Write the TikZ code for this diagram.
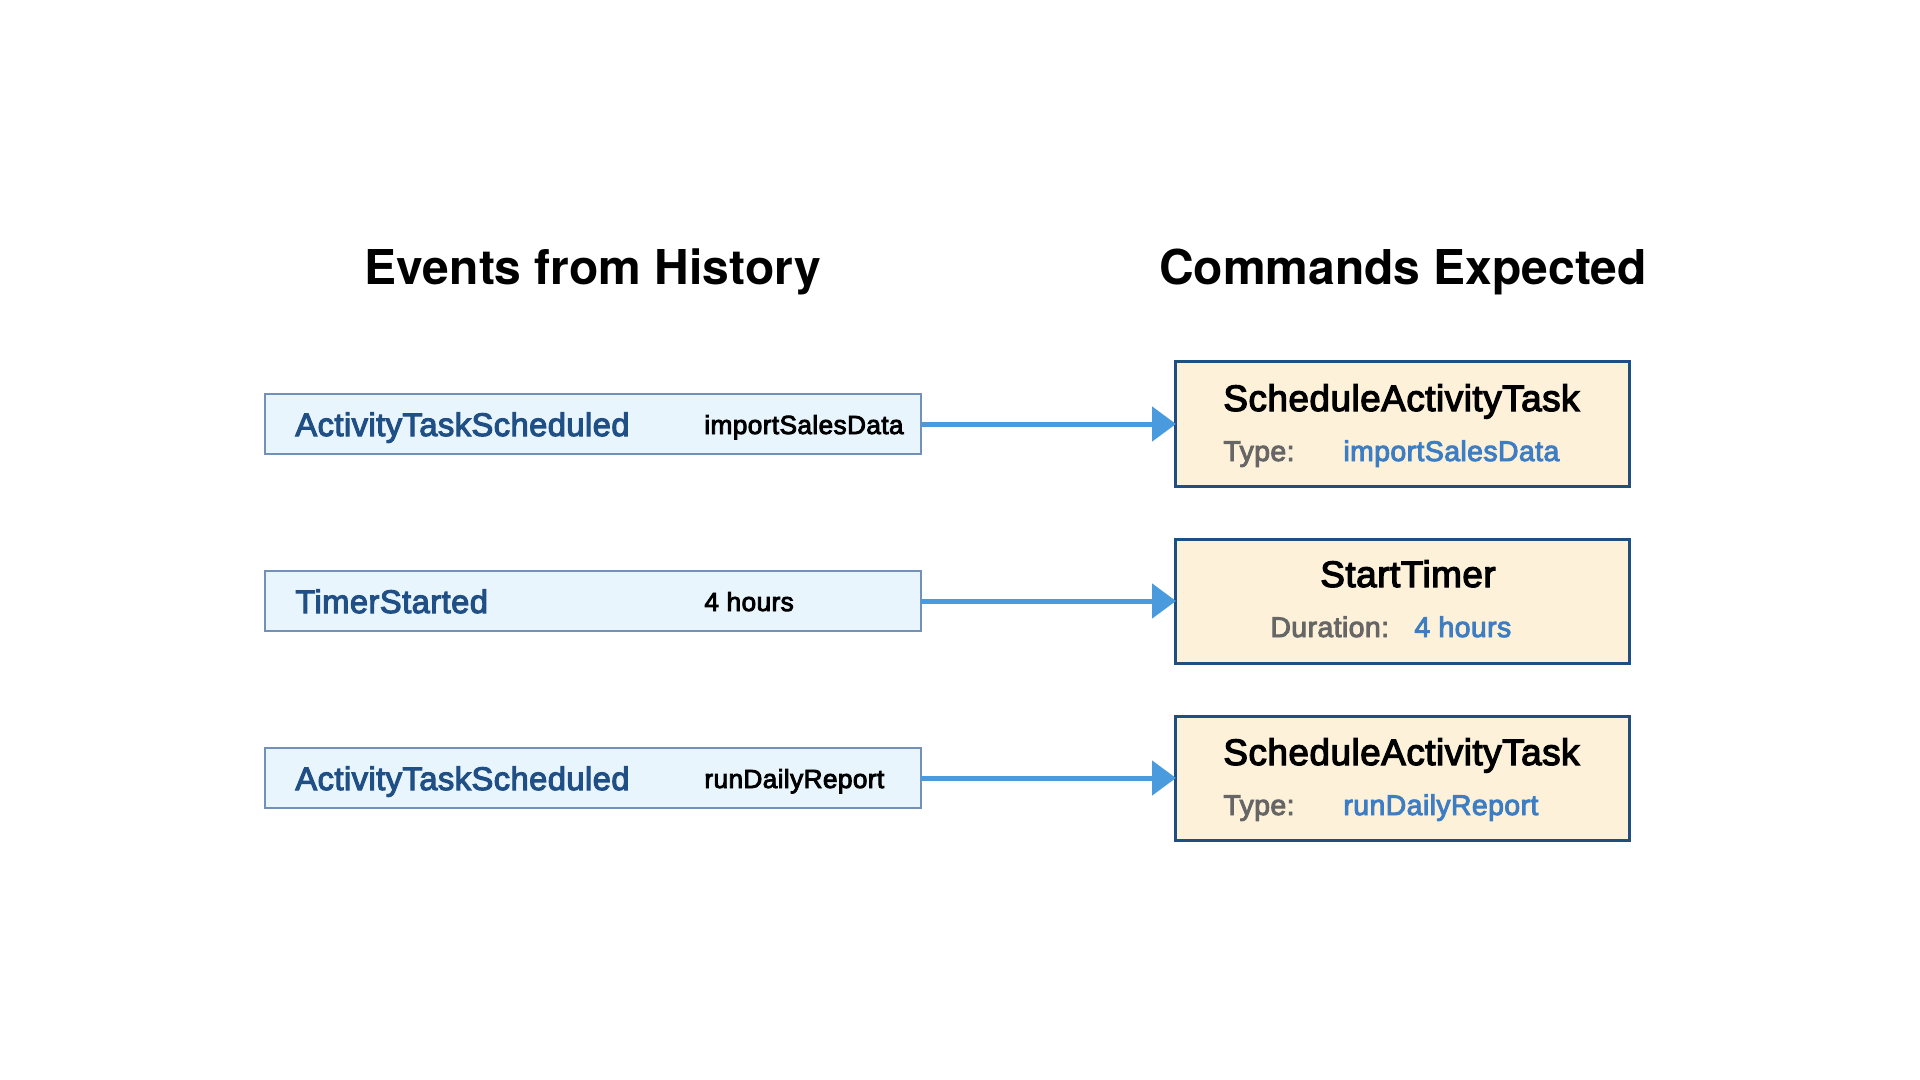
\documentclass[tikz,border=0pt]{standalone}
\usepackage{fontspec}
\setmainfont{TeX Gyre Heros}
\newfontfamily\medfont[FakeBold=3.4,LetterSpace=1.5]{Liberation Sans}
\usetikzlibrary{arrows.meta}
\definecolor{evfill}{HTML}{E8F5FD}
\definecolor{evdraw}{HTML}{7391B8}
\definecolor{evtext}{HTML}{1F4F85}
\definecolor{cmfill}{HTML}{FDF2D9}
\definecolor{cmdraw}{HTML}{1F4E80}
\definecolor{arrowc}{HTML}{4A9BDD}
\definecolor{graytext}{HTML}{666666}
\definecolor{valtext}{HTML}{3C7DC4}
\tikzset{
  evbox/.style={draw=evdraw, line width=0.8pt, fill=evfill, minimum width=328pt, minimum height=30pt, inner sep=0pt, outer sep=0pt, anchor=center},
  cmbox/.style={draw=cmdraw, line width=1.5pt, fill=cmfill, minimum width=227pt, minimum height=62pt, inner sep=0pt, outer sep=0pt, anchor=center},
  heading/.style={font=\bfseries\fontsize{24}{28}\selectfont, anchor=base, inner sep=0pt},
  evlabel/.style={font=\medfont\fontsize{16.3}{20}\selectfont, text=evtext, anchor=base west, inner sep=0pt},
  evvalue/.style={font=\medfont\fontsize{13.1}{16}\selectfont, text=black, anchor=base west, inner sep=0pt},
  cmtitle/.style={font=\medfont\fontsize{18.4}{22}\selectfont, text=black, anchor=base west, inner sep=0pt},
  cmkey/.style={font=\medfont\fontsize{14.2}{17}\selectfont, text=graytext, anchor=base west, inner sep=0pt},
  cmval/.style={font=\medfont\fontsize{14.2}{17}\selectfont, text=valtext, anchor=base west, inner sep=0pt},
  conn/.style={draw=arrowc, line width=2.5pt, -{Triangle[length=12pt,width=17pt]}, shorten >=-0.5pt}
}
\begin{document}
\begin{tikzpicture}[x=0.5pt,y=-0.5pt]
\useasboundingbox (0,0) rectangle (1920,1080);
\fill[white] (0,0) rectangle (1920,1080);

\node[heading] (h1) at (593,285) {Events from History};
\node[heading] (h2) at (1403,285) {Commands Expected};

% event boxes
\node[evbox] (e1) at (593,424) {};
\node[evbox] (e2) at (593,601) {};
\node[evbox] (e3) at (593,778) {};
\node[evlabel] (e1l) at (295,436) {ActivityTaskScheduled};
\node[evvalue] (e1v) at (704,434) {importSalesData};
\node[evlabel] (e2l) at (295,613) {TimerStarted};
\node[evvalue] (e2v) at (704,611) {4 hours};
\node[evlabel] (e3l) at (295,790) {ActivityTaskScheduled};
\node[evvalue] (e3v) at (704,788) {runDailyReport};

% command boxes
\node[cmbox] (c1) at (1402,424) {};
\node[cmbox] (c2) at (1402,601) {};
\node[cmbox] (c3) at (1402,778) {};

\node[cmtitle] (c1t) at (1223,411) {ScheduleActivityTask};
\node[cmkey] (c1k) at (1223,461) {Type:};
\node[cmval] (c1v) at (1343,461) {importSalesData};

\node[cmtitle, anchor=base] (c2t) at (1408,587) {StartTimer};
\node[cmkey] (c2k) at (1270,637) {Duration:};
\node[cmval] (c2v) at (1414,637) {4 hours};

\node[cmtitle] (c3t) at (1223,765) {ScheduleActivityTask};
\node[cmkey] (c3k) at (1223,815) {Type:};
\node[cmval] (c3v) at (1343,815) {runDailyReport};

% connectors
\draw[conn] (e1.east) -- (c1.west);
\draw[conn] (e2.east) -- (c2.west);
\draw[conn] (e3.east) -- (c3.west);
\end{tikzpicture}
\end{document}
